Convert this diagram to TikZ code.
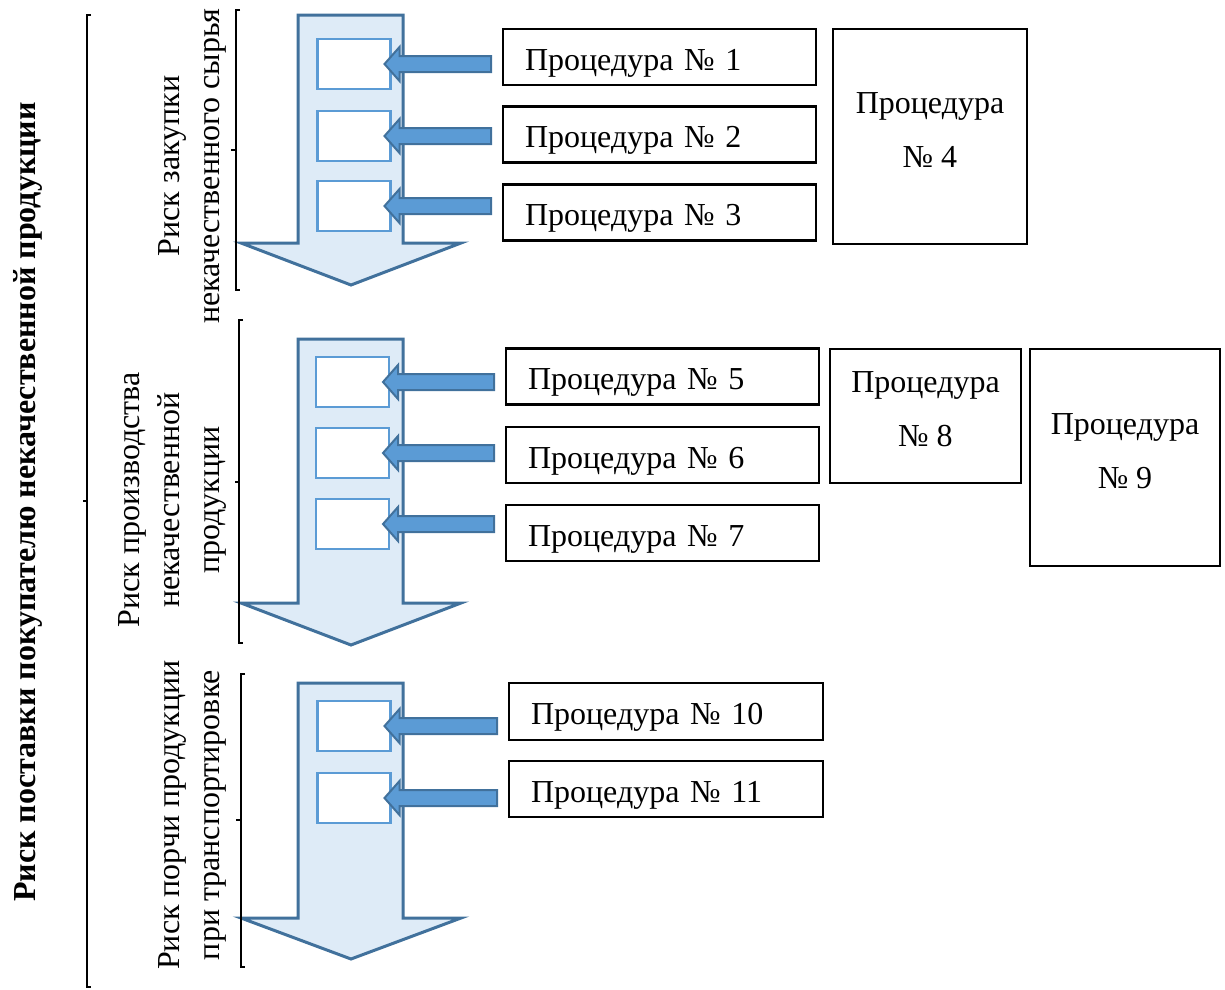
\documentclass[tikz,border=0pt]{standalone}
\usepackage{fontspec}
\setmainfont{Liberation Serif}
\usetikzlibrary{calc}
\definecolor{arrfill}{RGB}{222,235,247}
\definecolor{arrdraw}{RGB}{65,113,156}
\definecolor{smblue}{RGB}{91,155,213}
\newcommand\ptrarrow[2]{%
  \path[pointer] let \p1=(#1.west), \p2=(#2.east), \p3=(#2.center) in
    (\x1-12pt,\y3+8pt) -- (\x2+9pt,\y3+8pt) -- (\x2+9pt,\y3+17pt) -- (\x2-6pt,\y3)
    -- (\x2+9pt,\y3-17pt) -- (\x2+9pt,\y3-8pt) -- (\x1-12pt,\y3-8pt) -- cycle;}
\begin{document}
\begin{tikzpicture}[x=1pt,y=-1pt,
  bigarrow/.style={fill=arrfill,draw=arrdraw,line width=3pt,line join=miter},
  slot/.style={draw=smblue,fill=white,line width=2.5pt,minimum width=73pt,minimum height=50pt,inner sep=0pt,outer sep=0pt},
  proc/.style={draw=black,line width=2.5pt,minimum width=313pt,minimum height=56pt,text width=269pt,inner xsep=22pt,inner ysep=0pt,align=left,outer sep=0pt,font=\fontsize{32}{40}\selectfont,text height=33pt,text depth=7pt},
  procbig/.style={draw=black,line width=2.5pt,align=center,inner sep=0pt,outer sep=0pt,font=\fontsize{32}{54}\selectfont,text depth=13pt},
  risk/.style={rotate=90,align=center,inner sep=0pt,font=\fontsize{32}{40}\selectfont},
  bracket/.style={draw=black,line width=1.2pt},
  pointer/.style={fill=smblue,draw=arrdraw,line width=2pt,line join=miter}]
\useasboundingbox (0,0) rectangle (1225,989);

% big arrows
\draw[bigarrow] (298,15) -- (403,15) -- (403,243) -- (461,243) -- (351,285) -- (241,243) -- (298,243) -- cycle;
\draw[bigarrow] (298,339) -- (403,339) -- (403,603) -- (461,603) -- (351,645) -- (241,603) -- (298,603) -- cycle;
\draw[bigarrow] (298,683) -- (403,683) -- (403,918) -- (461,918) -- (351,959) -- (241,918) -- (298,918) -- cycle;

% slots
\node[slot] (s1) at (354,64) {};
\node[slot] (s2) at (354,136) {};
\node[slot] (s3) at (354,206) {};
\node[slot] (s5) at (352.5,382) {};
\node[slot] (s6) at (352.5,453) {};
\node[slot] (s7) at (352.5,524) {};
\node[slot] (s10) at (354,726) {};
\node[slot] (s11) at (354,798) {};

% procedures
\node[proc] (p1) at (659.5,57) {Процедура № 1};
\node[proc] (p2) at (659.5,134.5) {Процедура № 2};
\node[proc] (p3) at (659.5,212.5) {Процедура № 3};
\node[procbig,minimum width=194pt,minimum height=215pt] (p4) at (930,136.5) {Процедура\\№ 4};
\node[proc] (p5) at (662.5,376.5) {Процедура № 5};
\node[proc] (p6) at (662.5,455) {Процедура № 6};
\node[proc] (p7) at (662.5,533) {Процедура № 7};
\node[procbig,minimum width=191pt,minimum height=134pt] (p8) at (925.5,416) {Процедура\\№ 8};
\node[procbig,minimum width=190pt,minimum height=217pt] (p9) at (1125,457.5) {Процедура\\№ 9};
\node[proc,minimum width=314pt,text width=270pt,minimum height=57pt] (p10) at (666,711.5) {Процедура № 10};
\node[proc,minimum width=314pt,text width=270pt] (p11) at (666,789) {Процедура № 11};

% pointers
\ptrarrow{p1}{s1}
\ptrarrow{p2}{s2}
\ptrarrow{p3}{s3}
\ptrarrow{p5}{s5}
\ptrarrow{p6}{s6}
\ptrarrow{p7}{s7}
\ptrarrow{p10}{s10}
\ptrarrow{p11}{s11}

% brackets
\draw[bracket] (91,15) -- (87,15) -- (87,987) -- (91,987);
\draw[bracket] (87,501) -- (83,501);
\draw[bracket] (240,10) -- (236,10) -- (236,290) -- (240,290);
\draw[bracket] (236,150) -- (231,150);
\draw[bracket] (243,320) -- (239,320) -- (239,643) -- (243,643);
\draw[bracket] (239,482) -- (235,482);
\draw[bracket] (245,674) -- (241,674) -- (241,967) -- (245,967);
\draw[bracket] (241,820) -- (236,820);

% labels
\node[risk] (r1) at (192,166) {Риск закупки\\некачественного сырья};
\node[risk] (r2) at (172,500) {Риск производства\\некачественной\\продукции};
\node[risk] (r3) at (192,815) {Риск порчи продукции\\при транспортировке};
\node[risk,font=\fontsize{32}{40}\selectfont\bfseries] (r0) at (28,502) {Риск поставки покупателю некачественной продукции};
\end{tikzpicture}
\end{document}
